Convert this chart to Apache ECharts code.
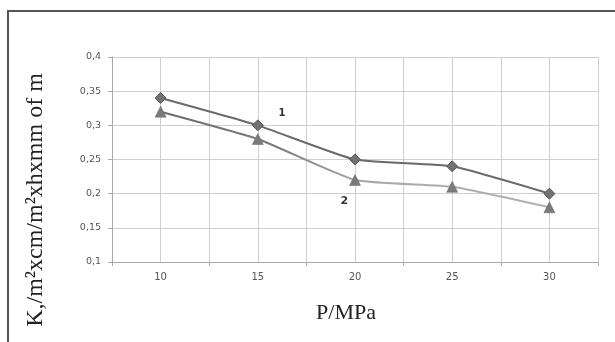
<!DOCTYPE html>
<html>
<head>
<meta charset="utf-8">
<script src="https://cdn.jsdelivr.net/npm/echarts@6/dist/echarts.min.js"></script>
<style>
html,body{margin:0;padding:0;background:#fff;}
#c{width:615px;height:342px;}
</style>
</head>
<body>
<div id="c"></div>
<script>
var pressures = [10, 15, 20, 25, 30];
var series1 = [0.34, 0.30, 0.25, 0.24, 0.20];
var series2 = [0.32, 0.28, 0.22, 0.21, 0.18];
var xLabels = [10, 15, 20, 25, 30];
var xTicks = [7.5, 12.5, 17.5, 22.5, 27.5, 32.5];
var curveLabels = ['1', '2'];
var curveLabelPos = [[16.25, 0.317], [19.45, 0.189]];

function pairs(xs, ys) { return xs.map(function (x, i) { return [x, ys[i]]; }); }

var chart = echarts.init(document.getElementById('c'), null, {renderer: 'canvas'});
chart.setOption({
  backgroundColor: '#fff',
  animation: false,
  grid: {left: 112, right: 17, top: 57, bottom: 80},
  xAxis: [{
    type: 'value', min: 7.5, max: 32.5, interval: 2.5,
    name: 'P/MPa', nameLocation: 'middle', nameGap: 40,
    nameTextStyle: {fontFamily: 'Liberation Serif', fontSize: 22, color: '#222', padding: [0, 18, 0, 0]},
    axisLine: {show: true, lineStyle: {color: '#a8a8a8', width: 1}},
    axisTick: {show: true, length: 4, customValues: xTicks, lineStyle: {color: '#a8a8a8'}},
    axisLabel: {customValues: xLabels, margin: 10, fontFamily: 'DejaVu Sans', fontSize: 10, color: '#555'},
    splitLine: {show: false},
    z: 3
  }, {
    type: 'value', min: 7.5, max: 32.5, interval: 2.5, position: 'bottom',
    axisLine: {show: false}, axisTick: {show: false}, axisLabel: {show: false},
    splitLine: {show: true, lineStyle: {color: '#cfcfcf', width: 1}}
  }],
  yAxis: {
    type: 'value', min: 0.1, max: 0.4, interval: 0.05,
    axisLine: {show: true, lineStyle: {color: '#a8a8a8', width: 1}},
    axisTick: {show: true, length: 4, lineStyle: {color: '#a8a8a8'}},
    axisLabel: {margin: 11, fontFamily: 'DejaVu Sans', fontSize: 9.5, color: '#555',
      formatter: function (v) { return String(Math.round(v * 100) / 100).replace('.', ','); }},
    splitLine: {show: true, lineStyle: {color: '#cfcfcf', width: 1}}
  },
  series: [
    {
      type: 'line', data: pairs(pressures, series1), smooth: 0.15,
      symbol: 'diamond', symbolSize: 11,
      lineStyle: {color: '#6a6a6a', width: 2},
      itemStyle: {color: '#727272', borderColor: '#555', borderWidth: 1},
      markPoint: {
        symbol: 'circle', symbolSize: 0,
        label: {show: true, position: 'inside', formatter: function (p) { return p.name; },
          fontFamily: 'DejaVu Sans', fontWeight: 'bold', fontSize: 10, color: '#333'},
        data: [{name: curveLabels[0], coord: curveLabelPos[0]}]
      },
      z: 3
    },
    {
      type: 'line', data: pairs(pressures, series2), smooth: 0.15,
      symbol: 'triangle', symbolSize: 11,
      lineStyle: {width: 2, color: new echarts.graphic.LinearGradient(0, 0, 1, 0, [
        {offset: 0, color: '#6c6c6c'}, {offset: 0.3, color: '#7a7a7a'},
        {offset: 0.5, color: '#a6a6a6'}, {offset: 1, color: '#b2b2b2'}])},
      itemStyle: {color: '#7a7a7a', borderColor: '#666', borderWidth: 0.5},
      markPoint: {
        symbol: 'circle', symbolSize: 0,
        label: {show: true, position: 'inside', formatter: function (p) { return p.name; },
          fontFamily: 'DejaVu Sans', fontWeight: 'bold', fontSize: 11, color: '#333'},
        data: [{name: curveLabels[1], coord: curveLabelPos[1]}]
      },
      z: 2
    }
  ],
  graphic: [
    {type: 'polyline', silent: true, shape: {points: [[8, 342], [8, 11], [615, 11]]},
      style: {stroke: '#555', lineWidth: 2, fill: null}},
    {type: 'text', x: 36, y: 200, rotation: Math.PI / 2,
      style: {text: 'K,/m\u00B2xcm/m\u00B2xhxmm of m', font: '24px "Liberation Serif"',
        fill: '#222', align: 'center', verticalAlign: 'middle'}}
  ]
});
</script>
</body>
</html>
